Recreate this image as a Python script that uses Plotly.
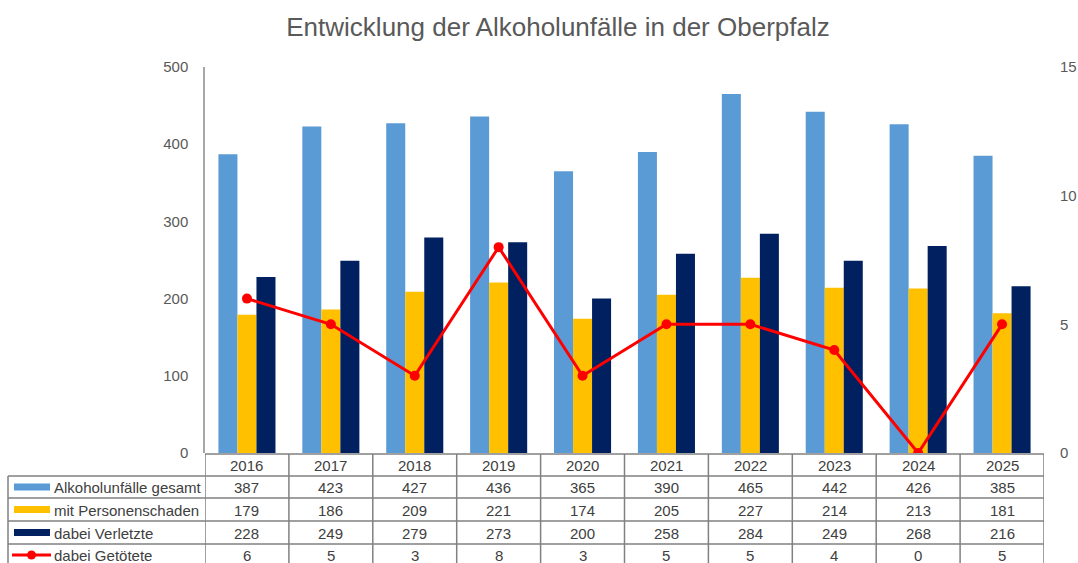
import plotly.graph_objects as go

years = ["2016", "2017", "2018", "2019", "2020", "2021", "2022", "2023", "2024", "2025"]
gesamt = [387, 423, 427, 436, 365, 390, 465, 442, 426, 385]
personenschaden = [179, 186, 209, 221, 174, 205, 227, 214, 213, 181]
verletzte = [228, 249, 279, 273, 200, 258, 284, 249, 268, 216]
getoetete = [6, 5, 3, 8, 3, 5, 5, 4, 0, 5]

names = ["Alkoholunfälle gesamt", "mit Personenschaden", "dabei Verletzte", "dabei Getötete"]
colors = ["#5B9BD5", "#FFC000", "#002060", "#FF0000"]

W, H = 1078, 563
PL, PR, PT, PB = 205, 1044, 67, 453  # plot area in page pixels
ML, MR, MT, MB = PL, W - PR, PT, H - PB
PW, PH = PR - PL, PB - PT
FONT = "Liberation Sans, Arial, sans-serif"
TXT = "#404040"
GRID = "#808080"

def px2x(px):
    return (px - PL) / PW

def py2y(py):
    return (PB - py) / PH

fig = go.Figure()
for vals, name, col in zip([gesamt, personenschaden, verletzte], names[:3], colors[:3]):
    fig.add_trace(go.Bar(x=years, y=vals, name=name, marker=dict(color=col, line=dict(width=0))))
fig.add_trace(go.Scatter(x=years, y=getoetete, name=names[3], yaxis="y2", mode="lines+markers",
                         line=dict(color=colors[3], width=3), marker=dict(size=10, color=colors[3])))

shapes = []
annotations = []

header_top, row_tops = 454, [476, 498, 521, 544]
bottom = 600
left_px = 8

shapes.append(dict(type="line", xref="paper", yref="paper", x0=0, x1=1, y0=py2y(header_top), y1=py2y(header_top),
                   line=dict(color=GRID, width=1.5)))
for rt in row_tops:
    shapes.append(dict(type="line", xref="paper", yref="paper", x0=px2x(left_px), x1=1, y0=py2y(rt), y1=py2y(rt),
                       line=dict(color=GRID, width=1.5)))
for i in range(len(years) + 1):
    shapes.append(dict(type="line", xref="x", yref="paper", x0=i - 0.5, x1=i - 0.5,
                       y0=py2y(header_top), y1=py2y(bottom), line=dict(color=GRID, width=1.5)))
shapes.append(dict(type="line", xref="paper", yref="paper", x0=px2x(left_px), x1=px2x(left_px),
                   y0=py2y(row_tops[0]), y1=py2y(bottom), line=dict(color=GRID, width=1.5)))

tf = dict(size=15, color=TXT, family=FONT)
for i, yr in enumerate(years):
    annotations.append(dict(x=i, y=py2y((header_top + row_tops[0]) / 2 + 0.5), xref="x", yref="paper", text=yr,
                            showarrow=False, xanchor="center", yanchor="middle", font=tf))

series = [gesamt, personenschaden, verletzte, getoetete]
row_bottoms = row_tops[1:] + [566]
for r, (vals, name, col) in enumerate(zip(series, names, colors)):
    yc = (row_tops[r] + row_bottoms[r]) / 2 + 0.5
    for i, v in enumerate(vals):
        annotations.append(dict(x=i, y=py2y(yc), xref="x", yref="paper", text=str(v), showarrow=False,
                                xanchor="center", yanchor="middle", font=tf))
    annotations.append(dict(x=px2x(52), y=py2y(yc), xref="paper", yref="paper", text=name, showarrow=False,
                            xanchor="left", yanchor="middle", font=tf))
    kc = yc - 0.5
    if r < 3:
        shapes.append(dict(type="rect", xref="paper", yref="paper", x0=px2x(14), x1=px2x(50),
                           y0=py2y(kc - 3.5), y1=py2y(kc + 3.5), fillcolor=col, line=dict(width=0)))
    else:
        shapes.append(dict(type="line", xref="paper", yref="paper", x0=px2x(12), x1=px2x(51),
                           y0=py2y(kc), y1=py2y(kc), line=dict(color=col, width=3)))
        shapes.append(dict(type="circle", xref="paper", yref="paper", x0=px2x(27), x1=px2x(36),
                           y0=py2y(kc - 4.5), y1=py2y(kc + 4.5), fillcolor=col, line=dict(width=0)))

fig.update_layout(
    width=W, height=H,
    margin=dict(l=ML, r=MR, t=MT, b=MB, autoexpand=False),
    paper_bgcolor="white", plot_bgcolor="white",
    title=dict(text="Entwicklung der Alkoholunfälle in der Oberpfalz", x=558 / W, xanchor="center",
               y=1 - 27 / H, yanchor="middle", font=dict(size=26, color="#595959", family=FONT)),
    barmode="group", bargap=0.32, bargroupgap=0,
    showlegend=False,
    xaxis=dict(type="category", showticklabels=False, showline=False, showgrid=False, ticks="",
               range=[-0.5, len(years) - 0.5], automargin=False),
    yaxis=dict(range=[0, 500], dtick=100, showgrid=False, zeroline=False, showline=True,
               linecolor="#A6A6A6", linewidth=1.5, ticks="", ticklabelstandoff=12, automargin=False,
               tickfont=dict(size=15, color="#595959", family=FONT)),
    yaxis2=dict(range=[0, 15], dtick=5, overlaying="y", side="right", showgrid=False, zeroline=False,
                showline=False, ticks="", ticklabelstandoff=15, automargin=False,
                tickfont=dict(size=15, color="#595959", family=FONT)),
    shapes=shapes, annotations=annotations,
)

fig.write_html("out.html", config={"displayModeBar": False},
               post_script="document.body.style.margin='0';document.body.style.overflow='hidden';")
